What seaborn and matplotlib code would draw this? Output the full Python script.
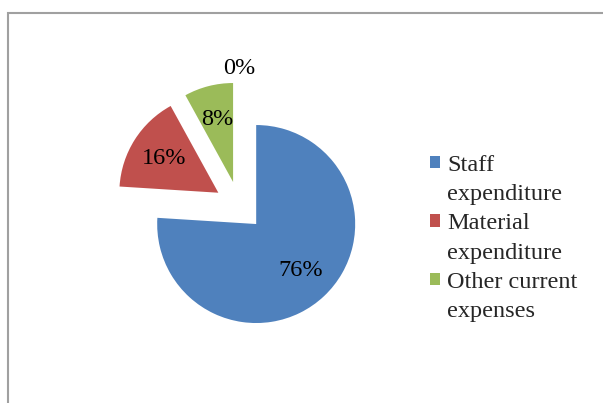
import matplotlib
matplotlib.use("Agg")
import matplotlib.pyplot as plt
import seaborn as sns
from matplotlib.patches import Rectangle

categories = ["Staff expenditure", "Material expenditure", "Other current expenses", ""]
legend_lines = [["Staff", "expenditure"], ["Material", "expenditure"], ["Other current", "expenses"]]
values = [76, 16, 8, 0]
colors = ["#4F81BD", "#C0504D", "#9BBB59", "#8064A2"]
explode = [0.25, 0.25, 0.25, 0.25]

sns.set_theme(style="white")
plt.rcParams["font.family"] = ["Liberation Serif", "DejaVu Serif"]

fig = plt.figure(figsize=(6.03, 4.03), dpi=100)
fig.patch.set_facecolor("white")

# pie axes: 1 data unit = ~99 px, centred on the pie centre
ax = fig.add_axes([0.1833, 0.1695, 0.4269, 0.6387])


def pct_label(p):
    return "" if p == 0 else f"{p:.0f}%"


# the zero slice only shows its "0%" text outside the pie
outer = ["0%" if v == 0 else "" for v in values]

wedges, texts, autotexts = ax.pie(
    values,
    labels=outer,
    colors=colors,
    explode=explode,
    startangle=90,
    counterclock=False,
    autopct=pct_label,
    pctdistance=0.65,
    labeldistance=1.14,
    wedgeprops=dict(linewidth=0),
    textprops=dict(fontsize=17.5, color="black"),
)
for t in texts:
    t.set_ha("center")
    t.set_va("center")
ax.set_xlim(-1.3, 1.3)
ax.set_ylim(-1.3, 1.3)

# one legend row per text line, marker only on the first line of each entry
blank = Rectangle((0, 0), 1, 1, alpha=0)
handles, labels = [], []
for w, lines in zip(wedges, legend_lines):
    handles += [w, blank]
    labels += lines

fig.legend(
    handles,
    labels,
    loc="upper left",
    bbox_to_anchor=(0.713, 0.616),
    frameon=False,
    fontsize=17.5,
    borderpad=0,
    borderaxespad=0,
    handlelength=0.4,
    handleheight=0.4,
    handletextpad=0.3,
    labelspacing=0.34,
)

# chart area border (only left and top edges fall inside the image)
fig.patches.append(
    Rectangle((8 / 603, -0.1), 1.2, 1 - 13 / 403 + 0.1,
              transform=fig.transFigure, fill=False,
              edgecolor="#A0A0A0", linewidth=1.5)
)

fig.savefig("out.png", dpi=100)
